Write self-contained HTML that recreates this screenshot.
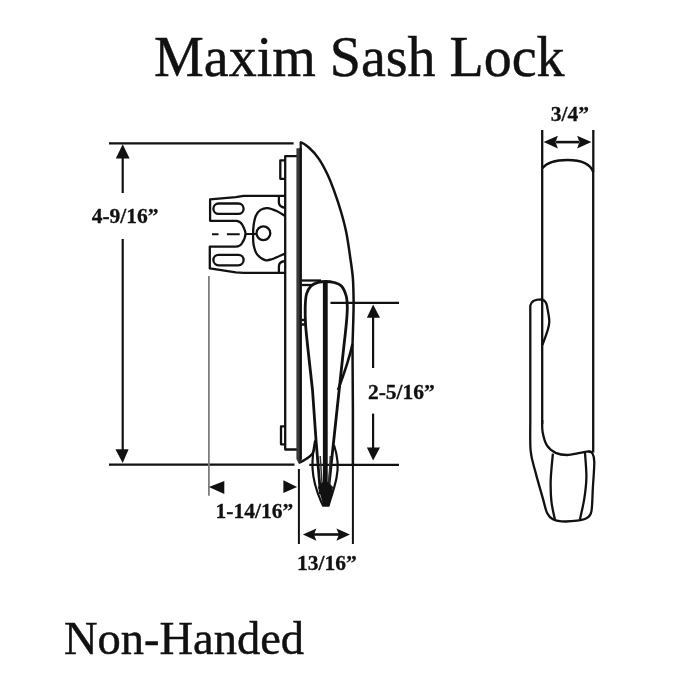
<!DOCTYPE html>
<html><head><meta charset="utf-8">
<style>
html,body{margin:0;padding:0;background:#fff;}
svg{display:block;will-change:transform;}
.t{font-family:"Liberation Serif",serif;fill:#111;stroke:#111;stroke-width:0.45;}
.d{font-family:"Liberation Serif",serif;font-weight:bold;font-size:21.5px;fill:#111;stroke:#111;stroke-width:0.3;}
</style></head><body>
<svg width="700" height="700" viewBox="0 0 700 700">
<rect width="700" height="700" fill="#fff"/>
<text class="t" x="154" y="76" font-size="56">Maxim Sash Lock</text>
<text class="t" x="64" y="654.5" font-size="46.5" transform="translate(0,654.5) scale(1,1.02) translate(0,-654.5)">Non-Handed</text>

<g stroke="#111" stroke-width="2.2" fill="none" stroke-linecap="butt">
  <!-- 4-9/16 dimension -->
  <line x1="109" y1="143.3" x2="293.6" y2="143.3"/>
  <line x1="109" y1="464.7" x2="294.5" y2="464.7"/>
  <line x1="309.3" y1="464.8" x2="399" y2="464.8"/>
  <line x1="122.7" y1="157" x2="122.7" y2="193"/>
  <line x1="122.7" y1="239" x2="122.7" y2="450"/>
  <!-- 2-5/16 dimension -->
  <line x1="330.5" y1="302.8" x2="399" y2="302.8"/>
  <line x1="373.1" y1="316" x2="373.1" y2="368"/>
  <line x1="373.1" y1="413.6" x2="373.1" y2="449"/>
  <!-- 1-14/16 extension -->
  <line x1="208.9" y1="275.9" x2="208.9" y2="495.7" stroke-width="1.7" stroke="#777"/>
  <line x1="298.9" y1="469" x2="298.9" y2="544" stroke-width="2"/>
  <line x1="352.9" y1="465" x2="352.9" y2="544" stroke-width="2"/>
  <!-- 13/16 arrow shaft -->
  <line x1="314" y1="534.5" x2="339" y2="534.5" stroke-width="2.6"/>
</g>
<g fill="#111" stroke="none">
  <!-- arrowheads -->
  <polygon points="122.7,144.3 115.8,158.6 129.6,158.6"/>
  <polygon points="122.7,463 115.4,449.3 128.6,449.3"/>
  <polygon points="373.1,304.6 366.9,317.7 380,317.7"/>
  <polygon points="373.1,460.6 366.9,447.4 380,447.4"/>
  <polygon points="208.9,487.1 224.3,481.1 224.3,494"/>
  <polygon points="297.1,487.1 283.4,480.3 283.4,493.1"/>
  <polygon points="302.9,534.5 316.4,528.6 314,534.5 316.4,540.7"/>
  <polygon points="350,534.5 336.4,528.6 339,534.5 336.4,540.7"/>
  <polygon points="543.6,142.1 557.9,135.7 555.5,142.1 557.9,148.6"/>
  <polygon points="591.4,142.1 577.1,135.7 579.5,142.1 577.1,148.6"/>
</g>
<line x1="556" y1="142.1" x2="579" y2="142.1" stroke="#111" stroke-width="2.6"/>

<!-- labels -->
<text class="d" x="91.7" y="222.9">4-9/16”</text>
<text class="d" x="367.9" y="398.6">2-5/16”</text>
<text class="d" x="215.6" y="518">1-14/16”</text>
<text class="d" x="297" y="570">13/16”</text>
<text class="d" x="550.7" y="120.7">3/4”</text>

<!-- LEFT VIEW LOCK -->
<g stroke="#111" stroke-width="2.3" fill="none" stroke-linejoin="round">
  <!-- plate -->
  <path d="M297,156.2 H285.2 V449.5 H297"/>
  <!-- small tabs on plate back -->
  <path d="M285.2,160.4 H280.3 V178.8 H285.2"/>
  <path d="M285.2,426.4 H281 V444.3 H285.2"/>
  <!-- bracket outline -->
  <path d="M285.2,195.8 H243.6 L235.8,197.1 L210.1,199.3 V220.8 H237 C240,221.5 241.5,223 242.3,224.7 C244,228 245.5,231 245.5,233.4 C245.5,237 244,240 242.3,242.7 C241,245 239,246.6 235.8,246.6 H209.8 V268.4 L235.8,272.3 L243.6,272.8 H285.2"/>
  <!-- slots -->
  <rect x="213.4" y="203.5" width="30.2" height="10.4" rx="5.2"/>
  <rect x="213.4" y="254.9" width="30.2" height="10.4" rx="5.2"/>
  <!-- corner notches -->
  <path d="M278.9,196 V202.5 C278.9,205.5 281,207.2 285.2,207.8"/>
  <path d="M278.9,272.7 V266.2 C278.9,263.2 281,261.5 285.2,261"/>
  <!-- D shape -->
  <path d="M285.0,216.0 C283.6,215.2 279.5,212.3 276.6,211.0 C273.7,209.7 270.1,208.3 267.4,208.1 C264.7,207.9 262.5,208.7 260.6,209.9 C258.7,211.2 257.1,213.1 256.0,215.6 C254.8,218.1 254.2,221.6 253.7,224.7 C253.2,227.8 253.1,230.5 253.1,233.9 C253.1,237.3 253.0,241.9 253.7,245.3 C254.4,248.7 255.2,251.9 257.1,254.4 C259.0,256.9 262.5,259.3 265.1,260.1 C267.7,260.9 269.2,260.1 272.5,259.0 C275.8,257.9 282.9,254.5 285.0,253.6"/>
  <circle cx="263.4" cy="233.3" r="6.9"/>
  <!-- center dashed -->
  <path d="M212,234.2 H218.5 M226.9,234.2 H239.7 M245.5,234 H256.5" stroke-width="2"/>
  <!-- cover curve -->
  <path d="M300.0,142.1 C305,143.5 313,150 318.9,158.9 C321.8,163.2 324.8,168.9 327.4,174.3 C330.0,179.7 332.0,185.1 334.3,191.4 C336.6,197.7 339.1,205.1 341.1,212.0 C343.1,218.9 344.7,224.6 346.3,232.6 C347.9,240.6 349.5,252.3 350.6,260.0 C351.7,267.7 352.4,271.9 352.9,278.6 C353.4,285.3 353.5,293.1 353.6,300.0 C353.7,306.9 353.5,312.5 353.3,320.0 C353.1,327.5 352.6,340.8 352.5,345.0 L352.9,410 V465" stroke-width="2.5"/>
  <!-- cover bottom -->
  <path d="M298.8,463 C304,460.5 310,457 312.5,453.5 C314.5,450 315,446 315,441"/>
  <!-- connectors -->
  <path d="M301,280.5 H321"/>
  <path d="M301,285 H313"/>
  <path d="M301,320 H306 M301,324.5 H306"/>
  <!-- lever outline -->
  <path d="M320.5,494 L316,440 L312.5,390 L307.5,345 C307.2,341.7 306.0,331.2 305.6,325.0 C305.2,318.8 305.1,313.2 305.2,308.0 C305.3,302.8 305.5,297.7 306.5,294.0 C307.5,290.3 309.1,287.9 311.0,286.0 C312.9,284.1 315.5,283.1 318.0,282.4 C320.5,281.6 323.3,281.5 326.0,281.5 C328.7,281.5 331.4,281.8 334.0,282.5 C336.6,283.2 339.4,283.8 341.4,286.0 C343.4,288.2 345.2,292.3 346.2,296.0 C347.2,299.7 347.3,303.2 347.3,308.0 C347.3,312.8 346.8,318.8 346.2,325.0 C345.6,331.2 344.4,341.7 344.0,345.0 L337,410 L328,494" stroke-width="2.8"/>
  <!-- second right line -->
  <path d="M352.5,344 C349,360 344,374 338,390" stroke-width="2.6"/>
  <!-- ogive outer -->
  <path d="M315.5,440 C313,450 312.3,460 312.5,468 C313,478 316,490 321,501.4 L323.2,505.7 H328.6 C330,500 334,490 336.5,478 C338.5,468 338.5,458 334,445" stroke-width="2.2"/>
</g>
<!-- dark strip -->
<polygon points="296.4,148.2 301.8,148.2 301.8,459 299,464 296.4,459" fill="#3a3a3a"/>
<polygon points="299.6,148.2 301.8,148.2 301.8,459 299.6,462" fill="#111"/>
<line x1="300.7" y1="142" x2="300.7" y2="150" stroke="#111" stroke-width="2.2"/>
<!-- central bar -->
<rect x="322.9" y="282.5" width="4.8" height="220" fill="#111"/>
<path d="M320.2,456 L322.8,496 M330.3,456 L328.2,496" stroke="#333" stroke-width="1.5" fill="none"/>
<!-- dark V at tip -->
<polygon points="318,487 321.5,499 323.4,505.7 328.5,505.7 330.8,498 333,487 328,482 322.8,482" fill="#111"/>

<!-- RIGHT VIEW -->
<g stroke="#111" stroke-width="2.3" fill="none" stroke-linejoin="round">
  <line x1="542.2" y1="130" x2="542.2" y2="168.6"/>
  <line x1="593.3" y1="130" x2="593.3" y2="172"/>
  <!-- body -->
  <path d="M542.2,424 V168.6 C547,162 556,160 567.5,160 C579,160 590,163 593.2,172 V452.6"/>
  <path d="M542.2,420.0 C542.3,422.0 541.8,427.7 542.6,432.0 C543.4,436.3 544.9,442.2 547.1,445.7 C549.3,449.2 552.4,451.3 555.7,452.9 C559.0,454.4 563.1,455.0 567.1,455.0 C571.1,455.0 576.4,453.5 580.0,452.9 C583.6,452.3 586.4,451.5 588.6,451.4 C590.8,451.3 592.3,452.3 593.0,452.5"/>
  <!-- side lever -->
  <path d="M530.3,420 V305.7 C531,301 536,299.3 541.4,299.3 C545,300 546.5,303 547,306 C548,312 549.5,318 549.3,322 C549,329 545,338 542.3,345"/>
  <path d="M530.3,420.0 C530.4,425.2 529.8,442.6 530.7,451.4 C531.6,460.2 533.7,465.0 535.7,472.9 C537.7,480.8 541.0,491.9 542.9,498.6 C544.8,505.3 545.4,509.4 547.1,512.9 C548.8,516.3 550.5,517.9 552.9,519.3 C555.3,520.7 557.4,521.2 561.4,521.4 C565.4,521.6 572.8,521.3 577.1,520.7 C581.4,520.1 584.7,519.5 587.1,517.9 C589.5,516.3 590.4,516.5 591.4,511.4 C592.4,506.3 592.4,495.3 592.9,487.1 C593.4,478.9 594.4,467.6 594.3,462.0 C594.2,456.4 593.5,455.2 592.5,453.5 C591.5,451.8 588.8,451.8 588.0,451.5"/>
  <path d="M552.9,453.6 C552.5,458.0 551.0,472.0 550.7,480.0 C550.5,488.0 550.7,494.7 551.4,501.4 C552.1,508.1 554.4,516.9 555.0,520.0"/>
  <path d="M585.0,452.9 C585.2,456.9 586.5,469.5 586.4,477.1 C586.3,484.7 585.4,491.6 584.3,498.6 C583.2,505.6 580.7,515.8 580.0,519.3"/>
</g>
</svg>
</body></html>
